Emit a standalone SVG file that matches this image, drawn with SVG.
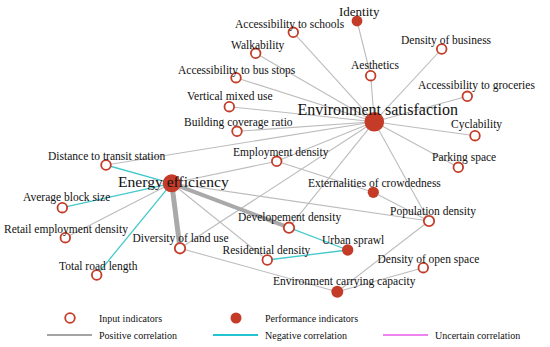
<svg xmlns="http://www.w3.org/2000/svg" width="550" height="347" viewBox="0 0 550 347">
<style>
text{font-family:"Liberation Serif","Times New Roman",serif;fill:#111;font-size:11.5px}
.big{font-size:16px}
.lg{font-size:10px}
.in{fill:#fff;stroke:#c43c27;stroke-width:1.8}
.pf{fill:#c43c27}
.pos{stroke:#bcbcbc;stroke-width:1.1;fill:none}
.thk{stroke:#a9a9a9;fill:none}
.neg{stroke:#45c9cc;stroke-width:1.3;fill:none}
</style>
<rect width="550" height="347" fill="#fff"/>
<g id="connectors">
<line class="pos" x1="357" y1="21" x2="370.7" y2="75.7"/>
<line class="pos" x1="370.7" y1="75.7" x2="374.3" y2="121.7"/>
<line class="pos" x1="374.3" y1="121.7" x2="293.3" y2="32.3"/>
<line class="pos" x1="374.3" y1="121.7" x2="255.7" y2="53.3"/>
<line class="pos" x1="374.3" y1="121.7" x2="441.7" y2="49"/>
<line class="pos" x1="374.3" y1="121.7" x2="236" y2="77.7"/>
<line class="pos" x1="374.3" y1="121.7" x2="467.3" y2="96.3"/>
<line class="pos" x1="374.3" y1="121.7" x2="229.3" y2="106.7"/>
<line class="pos" x1="374.3" y1="121.7" x2="475" y2="135.7"/>
<line class="pos" x1="374.3" y1="121.7" x2="237" y2="131.3"/>
<line class="pos" x1="374.3" y1="121.7" x2="106" y2="165"/>
<line class="pos" x1="374.3" y1="121.7" x2="458.3" y2="167.3"/>
<line class="pos" x1="374.3" y1="121.7" x2="276.7" y2="161.3"/>
<line class="pos" x1="374.3" y1="121.7" x2="180" y2="248.3"/>
<line class="pos" x1="374.3" y1="121.7" x2="289" y2="227.7"/>
<line class="pos" x1="374.3" y1="121.7" x2="429" y2="221"/>
<line class="neg" x1="171.7" y1="183.3" x2="106" y2="165"/>
<line class="neg" x1="171.7" y1="183.3" x2="62.3" y2="207.7"/>
<line class="neg" x1="171.7" y1="183.3" x2="96.7" y2="275"/>
<line class="pos" x1="171.7" y1="183.3" x2="65.3" y2="237.7"/>
<line class="pos" x1="171.7" y1="183.3" x2="276.7" y2="161.3"/>
<line class="pos" x1="171.7" y1="183.3" x2="429" y2="221"/>
<line class="pos" x1="171.7" y1="183.3" x2="267.3" y2="260"/>
<line class="thk" stroke-width="5" x1="171.7" y1="183.3" x2="180" y2="248.3"/>
<line class="thk" stroke-width="4" x1="171.7" y1="183.3" x2="289" y2="227.7"/>
<line class="pos" x1="276.7" y1="161.3" x2="373.3" y2="192.3"/>
<line class="pos" x1="373.3" y1="192.3" x2="429" y2="221"/>
<line class="neg" x1="289" y1="227.7" x2="347.7" y2="250"/>
<line class="neg" x1="267.3" y1="260" x2="347.7" y2="250"/>
<line class="pos" x1="180" y1="248.3" x2="337.3" y2="291.7"/>
<line class="pos" x1="337.3" y1="291.7" x2="429" y2="221"/>
<line class="pos" x1="337.3" y1="291.7" x2="423.3" y2="267.7"/>
</g>
<g id="identity"><circle class="pf" cx="357" cy="21" r="5.4"/><text x="339" y="16" style="font-size:13px">Identity</text></g>
<g id="acc-schools"><circle class="in" cx="293.3" cy="32.3" r="4.8"/><text x="235" y="28">Accessibility to schools</text></g>
<g id="walkability"><circle class="in" cx="255.7" cy="53.3" r="4.8"/><text x="231" y="49">Walkability</text></g>
<g id="density-business"><circle class="in" cx="441.7" cy="49" r="4.8"/><text x="401" y="44">Density of business</text></g>
<g id="aesthetics"><circle class="in" cx="370.7" cy="75.7" r="4.8"/><text x="351" y="69">Aesthetics</text></g>
<g id="acc-bus"><circle class="in" cx="236" cy="77.7" r="4.8"/><text x="178" y="74">Accessibility to bus stops</text></g>
<g id="acc-groceries"><circle class="in" cx="467.3" cy="96.3" r="4.8"/><text x="418" y="89">Accessibility to groceries</text></g>
<g id="vertical-mixed"><circle class="in" cx="229.3" cy="106.7" r="4.8"/><text x="187" y="100">Vertical mixed use</text></g>
<g id="env-satisfaction"><circle class="pf" cx="374.3" cy="121.7" r="9.8"/><text class="big" x="297.5" y="115">Environment satisfaction</text></g>
<g id="building-coverage"><circle class="in" cx="237" cy="131.3" r="4.8"/><text x="184" y="126">Building coverage ratio</text></g>
<g id="cyclability"><circle class="in" cx="475" cy="135.7" r="4.8"/><text x="451" y="128">Cyclability</text></g>
<g id="distance-transit"><circle class="in" cx="106" cy="165" r="4.8"/><text x="48" y="160">Distance to transit station</text></g>
<g id="employment-density"><circle class="in" cx="276.7" cy="161.3" r="4.8"/><text x="233" y="155.5">Employment density</text></g>
<g id="parking"><circle class="in" cx="458.3" cy="167.3" r="4.8"/><text x="432" y="160.5">Parking space</text></g>
<g id="energy-efficiency"><circle class="pf" cx="171.7" cy="183.3" r="9"/><text class="big" x="118" y="187" style="font-size:15.6px">Energy efficiency</text></g>
<g id="externalities"><circle class="pf" cx="373.3" cy="192.3" r="5.6"/><text x="308" y="186.5">Externalities of crowdedness</text></g>
<g id="avg-block"><circle class="in" cx="62.3" cy="207.7" r="4.8"/><text x="23" y="201">Average block size</text></g>
<g id="population-density"><circle class="in" cx="429" cy="221" r="5.2"/><text x="390" y="215">Population density</text></g>
<g id="development-density"><circle class="in" cx="289" cy="227.7" r="5.2"/><text x="238" y="221">Developement density</text></g>
<g id="retail-employment"><circle class="in" cx="65.3" cy="237.7" r="4.8"/><text x="4" y="232.5">Retail employment density</text></g>
<g id="diversity"><circle class="in" cx="180" cy="248.3" r="5.2"/><text x="132.5" y="242">Diversity of land use</text></g>
<g id="urban-sprawl"><circle class="pf" cx="347.7" cy="250" r="5.7"/><text x="322" y="244">Urban sprawl</text></g>
<g id="residential-density"><circle class="in" cx="267.3" cy="260" r="4.8"/><text x="222.5" y="253.5">Residential density</text></g>
<g id="open-space"><circle class="in" cx="423.3" cy="267.7" r="4.8"/><text x="377.5" y="262.5">Density of open space</text></g>
<g id="total-road"><circle class="in" cx="96.7" cy="275" r="4.8"/><text x="59" y="269.5">Total road length</text></g>
<g id="env-carrying"><circle class="pf" cx="337.3" cy="291.7" r="6"/><text x="273" y="285">Environment carrying capacity</text></g>
<g id="legend">
<circle class="in" cx="70" cy="318" r="4.8"/><text class="lg" x="99" y="322">Input indicators</text>
<circle class="pf" cx="236" cy="318" r="5.5"/><text class="lg" x="265" y="322">Performance indicators</text>
<line x1="47" y1="335" x2="92" y2="335" stroke="#a4a4a4" stroke-width="2"/><text class="lg" x="99" y="338.5">Positive correlation</text>
<line x1="213" y1="335" x2="258" y2="335" stroke="#22c4cf" stroke-width="2"/><text class="lg" x="265" y="338.5">Negative correlation</text>
<line x1="383" y1="335" x2="428" y2="335" stroke="#ee82ee" stroke-width="2"/><text class="lg" x="435" y="338.5">Uncertain correlation</text>
</g>
</svg>
